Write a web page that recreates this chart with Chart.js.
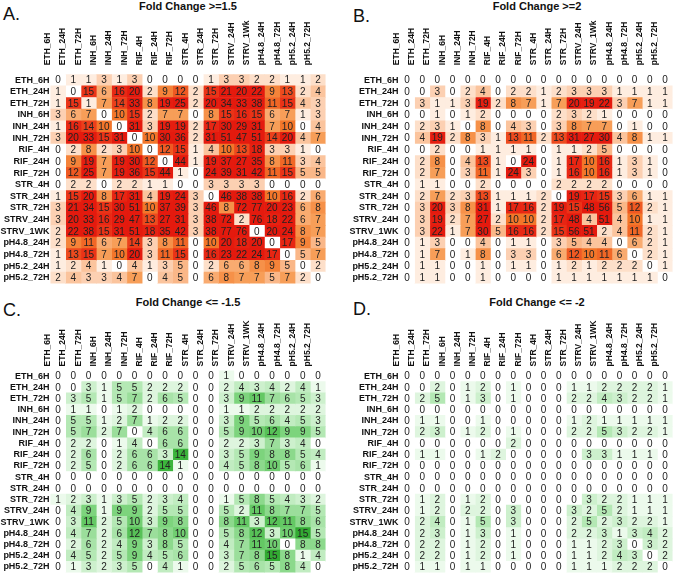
<!DOCTYPE html>
<html>
<head>
<meta charset="utf-8">
<script src="https://cdn.jsdelivr.net/npm/chart.js@4.4.1/dist/chart.umd.min.js"></script>
<style>
  body { margin: 0; background: #fff; width: 675px; height: 582px; position: relative; overflow: hidden; font-family: Arial, 'Liberation Sans', sans-serif; }
  canvas { position: absolute; }
  .letter { position: absolute; font-size: 18px; line-height: 18px; color: #111; }
  .title { position: absolute; font-size: 11px; line-height: 12px; font-weight: bold; color: #111; transform: translateX(-50%); white-space: nowrap; }
</style>
</head>
<body>
<div class="letter" style="left:3px;top:5px">A.</div>
<div class="letter" style="left:353px;top:7px">B.</div>
<div class="letter" style="left:3px;top:301px">C.</div>
<div class="letter" style="left:353px;top:300px">D.</div>
<div class="title" style="left:188px;top:0px">Fold Change &gt;=1.5</div>
<div class="title" style="left:537px;top:0px">Fold Change &gt;=2</div>
<div class="title" style="left:188px;top:296px">Fold Change &lt;= -1.5</div>
<div class="title" style="left:537px;top:296px">Fold Change &lt;= -2</div>
<canvas id="chartA" width="337" height="290" style="left:0;top:0"></canvas>
<canvas id="chartB" width="338" height="290" style="left:337px;top:0"></canvas>
<canvas id="chartC" width="337" height="292" style="left:0;top:290px"></canvas>
<canvas id="chartD" width="338" height="292" style="left:337px;top:290px"></canvas>
<script>
const rowLabels = ['ETH_6H', 'ETH_24H', 'ETH_72H', 'INH_6H', 'INH_24H', 'INH_72H', 'RIF_4H', 'RIF_24H', 'RIF_72H',
  'STR_4H', 'STR_24H', 'STR_72H', 'STRV_24H', 'STRV_1WK', 'pH4.8_24H', 'pH4.8_72H', 'pH5.2_24H', 'pH5.2_72H'];
const colLabelsUp = ['ETH_6H', 'ETH_24H', 'ETH_72H', 'INH_6H', 'INH_24H', 'INH_72H', 'RIF_4H', 'RIF_24H', 'RIF_72H',
  'STR_4H', 'STR_24H', 'STR_72H', 'STRV_24H', 'STRV_1Wk', 'pH4.8_24H', 'pH4.8_72H', 'pH5.2_24H', 'pH5.2_72H'];
const colLabelsDown = ['ETH_6H', 'ETH_24H', 'ETH_72H', 'INH_6H', 'INH_24H', 'INH_72H', 'RIF_4H', 'RIF_24H', 'RIF_72H',
  'STR_4H', 'STR_24H', 'STR_72H', 'STRV_24H', 'STRV_1WK', 'pH4.8_24H', 'pH4.8_72H', 'pH5.2_24H', 'pH5.2_72H'];

// A. fold change >= 1.5
const upFc15 = [
  [0, 1, 1, 3, 1, 3, 0, 0, 0, 0, 1, 3, 3, 2, 2, 1, 1, 2],
  [1, 0, 15, 6, 16, 20, 2, 9, 12, 2, 15, 21, 20, 22, 9, 13, 2, 4],
  [1, 15, 1, 7, 14, 33, 8, 19, 25, 2, 20, 34, 33, 38, 11, 15, 4, 3],
  [3, 6, 7, 0, 10, 15, 2, 7, 7, 0, 8, 15, 16, 15, 6, 7, 1, 3],
  [1, 16, 14, 10, 0, 31, 3, 19, 19, 2, 17, 30, 29, 31, 7, 10, 0, 4],
  [3, 20, 33, 15, 31, 0, 10, 30, 36, 2, 31, 51, 47, 51, 14, 20, 4, 7],
  [0, 2, 8, 2, 3, 10, 0, 12, 15, 1, 4, 10, 13, 18, 3, 3, 1, 0],
  [0, 9, 19, 7, 19, 30, 12, 0, 44, 1, 19, 37, 27, 35, 8, 11, 3, 4],
  [0, 12, 25, 7, 19, 36, 15, 44, 1, 0, 24, 39, 31, 42, 11, 15, 5, 5],
  [0, 2, 2, 0, 2, 2, 1, 1, 0, 0, 3, 3, 3, 3, 0, 0, 0, 0],
  [1, 15, 20, 8, 17, 31, 4, 19, 24, 3, 0, 46, 38, 38, 10, 16, 2, 6],
  [3, 21, 34, 15, 30, 51, 10, 37, 39, 3, 46, 8, 72, 77, 20, 23, 6, 8],
  [3, 20, 33, 16, 29, 47, 13, 27, 31, 3, 38, 72, 2, 76, 18, 22, 6, 7],
  [2, 22, 38, 15, 31, 51, 18, 35, 42, 3, 38, 77, 76, 0, 20, 24, 8, 7],
  [2, 9, 11, 6, 7, 14, 3, 8, 11, 0, 10, 20, 18, 20, 0, 17, 9, 5],
  [1, 13, 15, 7, 10, 20, 3, 11, 15, 0, 16, 23, 22, 24, 17, 0, 5, 7],
  [1, 2, 4, 1, 0, 4, 1, 3, 5, 0, 2, 6, 6, 8, 9, 5, 0, 2],
  [2, 4, 3, 3, 4, 7, 0, 4, 5, 0, 6, 8, 7, 7, 5, 7, 2, 0]
];

// B. fold change >= 2
const upFc2 = [
  [0, 0, 0, 0, 0, 0, 0, 0, 0, 0, 0, 0, 0, 0, 0, 0, 0, 0],
  [0, 0, 3, 0, 2, 4, 0, 2, 2, 1, 2, 3, 3, 3, 1, 1, 1, 1],
  [0, 3, 1, 1, 3, 19, 2, 8, 7, 1, 7, 20, 19, 22, 3, 7, 1, 1],
  [0, 0, 1, 0, 1, 2, 0, 0, 0, 0, 2, 3, 2, 1, 0, 0, 0, 0],
  [0, 2, 3, 1, 0, 8, 0, 4, 3, 0, 3, 8, 7, 7, 0, 1, 0, 0],
  [0, 4, 19, 2, 8, 3, 1, 13, 11, 2, 13, 31, 27, 30, 4, 8, 1, 1],
  [0, 0, 2, 0, 0, 1, 1, 1, 1, 0, 1, 1, 2, 5, 0, 0, 0, 0],
  [0, 2, 8, 0, 4, 13, 1, 0, 24, 0, 1, 17, 10, 16, 1, 3, 1, 0],
  [0, 2, 7, 0, 3, 11, 1, 24, 3, 0, 1, 16, 10, 16, 1, 3, 1, 0],
  [0, 1, 1, 0, 0, 2, 0, 0, 0, 0, 2, 2, 2, 2, 0, 0, 0, 0],
  [0, 2, 7, 2, 3, 13, 1, 1, 1, 2, 0, 19, 17, 15, 3, 6, 1, 1],
  [0, 3, 20, 3, 8, 31, 1, 17, 16, 2, 19, 15, 48, 56, 5, 12, 2, 1],
  [0, 3, 19, 2, 7, 27, 2, 10, 10, 2, 17, 48, 4, 51, 4, 10, 1, 1],
  [0, 3, 22, 1, 7, 30, 5, 16, 16, 2, 15, 56, 51, 2, 4, 11, 2, 1],
  [0, 1, 3, 0, 0, 4, 0, 1, 1, 0, 3, 5, 4, 4, 0, 6, 2, 1],
  [0, 1, 7, 0, 1, 8, 0, 3, 3, 0, 6, 12, 10, 11, 6, 0, 2, 1],
  [0, 1, 1, 0, 0, 1, 0, 1, 1, 0, 1, 2, 1, 2, 2, 2, 0, 1],
  [0, 1, 1, 0, 0, 1, 0, 0, 0, 0, 1, 1, 1, 1, 1, 1, 1, 0]
];

// C. fold change <= -1.5
const downFc15 = [
  [0, 0, 0, 0, 0, 0, 0, 0, 0, 0, 0, 1, 0, 0, 0, 0, 0, 0],
  [0, 0, 3, 1, 5, 5, 2, 2, 2, 0, 0, 2, 4, 3, 4, 2, 4, 1],
  [0, 3, 5, 1, 5, 7, 2, 6, 5, 0, 0, 3, 9, 11, 7, 6, 5, 3],
  [0, 1, 1, 0, 1, 2, 0, 0, 0, 0, 0, 1, 1, 2, 2, 2, 2, 2],
  [0, 5, 5, 1, 2, 7, 1, 2, 2, 0, 0, 3, 9, 5, 6, 4, 5, 3],
  [0, 5, 7, 2, 7, 0, 4, 6, 6, 0, 0, 5, 9, 10, 12, 9, 9, 5],
  [0, 2, 2, 0, 1, 4, 0, 6, 6, 0, 0, 2, 2, 3, 7, 3, 4, 0],
  [0, 2, 6, 0, 2, 6, 6, 3, 14, 0, 0, 3, 5, 9, 8, 8, 5, 4],
  [0, 2, 5, 0, 2, 6, 6, 14, 1, 0, 0, 4, 5, 8, 10, 5, 6, 1],
  [0, 0, 0, 0, 0, 0, 0, 0, 0, 0, 0, 0, 0, 0, 0, 0, 0, 0],
  [0, 0, 0, 0, 0, 0, 0, 0, 0, 0, 0, 0, 0, 0, 0, 0, 0, 0],
  [1, 2, 3, 1, 3, 5, 2, 3, 4, 0, 0, 1, 5, 8, 5, 4, 3, 2],
  [0, 4, 9, 1, 9, 9, 2, 5, 5, 0, 0, 5, 2, 11, 8, 7, 7, 5],
  [0, 3, 11, 2, 5, 10, 3, 9, 8, 0, 0, 8, 11, 3, 12, 11, 8, 6],
  [0, 4, 7, 2, 6, 12, 7, 8, 10, 0, 0, 5, 8, 12, 3, 10, 15, 5],
  [0, 2, 6, 2, 4, 9, 3, 8, 5, 0, 0, 4, 7, 11, 10, 0, 8, 8],
  [0, 4, 5, 2, 5, 9, 4, 5, 6, 0, 0, 3, 7, 8, 15, 8, 1, 4],
  [0, 1, 3, 2, 3, 5, 0, 4, 1, 0, 0, 2, 5, 6, 5, 8, 4, 0]
];

// D. fold change <= -2
const downFc2 = [
  [0, 0, 0, 0, 0, 0, 0, 0, 0, 0, 0, 0, 0, 0, 0, 0, 0, 0],
  [0, 0, 2, 0, 1, 2, 0, 1, 0, 0, 0, 1, 1, 2, 2, 2, 2, 1],
  [0, 2, 5, 0, 1, 3, 0, 1, 0, 0, 0, 2, 2, 4, 3, 2, 2, 1],
  [0, 0, 0, 0, 0, 0, 0, 0, 0, 0, 0, 0, 0, 0, 0, 0, 0, 0],
  [0, 1, 1, 0, 0, 1, 0, 0, 0, 0, 0, 1, 2, 1, 1, 1, 1, 1],
  [0, 2, 3, 0, 1, 2, 0, 1, 0, 0, 0, 2, 2, 5, 3, 2, 2, 1],
  [0, 0, 0, 0, 0, 0, 0, 2, 0, 0, 0, 0, 0, 0, 0, 0, 0, 0],
  [0, 1, 1, 0, 0, 1, 2, 0, 0, 0, 0, 0, 3, 3, 1, 1, 1, 0],
  [0, 0, 0, 0, 0, 0, 0, 0, 0, 0, 0, 0, 0, 0, 0, 0, 0, 0],
  [0, 0, 0, 0, 0, 0, 0, 0, 0, 0, 0, 0, 0, 0, 0, 0, 0, 0],
  [0, 0, 0, 0, 0, 0, 0, 0, 0, 0, 0, 0, 0, 0, 0, 0, 0, 0],
  [0, 1, 2, 0, 1, 2, 0, 0, 0, 0, 0, 0, 3, 2, 2, 1, 1, 1],
  [0, 1, 2, 0, 2, 2, 0, 3, 0, 0, 0, 3, 2, 5, 2, 1, 1, 1],
  [0, 2, 4, 0, 1, 5, 0, 3, 0, 0, 0, 2, 5, 2, 3, 2, 2, 1],
  [0, 2, 3, 0, 1, 3, 0, 1, 0, 0, 0, 2, 2, 3, 1, 3, 4, 2],
  [0, 2, 2, 0, 1, 2, 0, 1, 0, 0, 0, 1, 1, 2, 3, 0, 3, 2],
  [0, 2, 2, 0, 1, 2, 0, 1, 0, 0, 0, 1, 1, 2, 4, 3, 0, 2],
  [0, 1, 1, 0, 1, 1, 0, 0, 0, 0, 0, 1, 1, 1, 2, 2, 2, 0]
];

// colour ramps, value -> rgb
const redStops = [
  [0, [255, 255, 255]], [1, [254, 237, 224]], [2, [253, 223, 201]], [3, [252, 208, 178]],
  [5, [250, 183, 136]], [7, [247, 158, 88]], [10, [243, 118, 42]], [13, [237, 74, 30]],
  [16, [232, 40, 20]], [20, [228, 26, 14]]
];
const greenStops = [
  [0, [255, 255, 255]], [1, [236, 250, 236]], [2, [222, 245, 222]], [3, [205, 240, 205]],
  [5, [180, 232, 180]], [7, [155, 222, 155]], [9, [125, 212, 125]], [11, [100, 200, 100]],
  [14, [60, 180, 60]], [15, [50, 170, 50]]
];

function shade(v, stops) {
  if (v >= stops[stops.length - 1][0]) return 'rgb(' + stops[stops.length - 1][1].join(',') + ')';
  for (let k = 1; k < stops.length; k++) {
    if (v <= stops[k][0]) {
      const [v0, c0] = stops[k - 1];
      const [v1, c1] = stops[k];
      const t = (v - v0) / (v1 - v0);
      return 'rgb(' + c0.map((c, n) => Math.round(c + (c1[n] - c) * t)).join(',') + ')';
    }
  }
}

const labelFont = "Arial, 'Liberation Sans', sans-serif";

// writes the count in each cell
function cellText(values) {
  return {
    id: 'cellText',
    afterDatasetsDraw(chart) {
      const { ctx, scales: { x, y } } = chart;
      ctx.save();
      ctx.font = '10px Arial, "Liberation Sans", sans-serif';
      ctx.fillStyle = '#222';
      ctx.textAlign = 'center';
      ctx.textBaseline = 'middle';
      values.forEach((row, i) => row.forEach((v, j) => {
        ctx.fillText(String(v), x.getPixelForValue(j), y.getPixelForValue(i) + 0.5);
      }));
      ctx.restore();
    }
  };
}

function makePanel(id, values, cols, stops, box) {
  const datasets = cols.map((c, j) => ({
    label: c,
    data: rowLabels.map(() => [j - 0.5, j + 0.5]),
    backgroundColor: values.map(row => shade(row[j], stops)),
    borderWidth: 0,
    barPercentage: 1,
    categoryPercentage: 1,
    grouped: false
  }));

  new Chart(document.getElementById(id), {
    type: 'bar',
    data: { labels: rowLabels, datasets: datasets },
    options: {
      indexAxis: 'y',
      responsive: false,
      animation: false,
      devicePixelRatio: 1,
      layout: { padding: { left: 0, top: 0, right: box.right, bottom: box.bottom } },
      plugins: { legend: { display: false }, tooltip: { enabled: false } },
      scales: {
        x: {
          type: 'linear',
          position: 'top',
          min: -0.5,
          max: 17.5,
          afterBuildTicks: axis => { axis.ticks = cols.map((c, j) => ({ value: j })); },
          afterFit: axis => { axis.height = box.top; },
          grid: { display: false, drawTicks: false },
          border: { display: false },
          ticks: {
            autoSkip: false,
            minRotation: 90,
            maxRotation: 90,
            padding: box.labelGap,
            color: '#111',
            font: { family: labelFont, size: 8.5, weight: 'bold' },
            callback: (value, index) => cols[index]
          }
        },
        y: {
          type: 'category',
          offset: true,
          afterFit: axis => { axis.width = box.left; },
          grid: { display: false, drawTicks: false },
          border: { display: false },
          ticks: {
            autoSkip: false,
            padding: 1,
            color: '#111',
            font: { family: labelFont, size: 9, weight: 'bold' }
          }
        }
      }
    },
    plugins: [cellText(values)]
  });
}

makePanel('chartA', upFc15, colLabelsUp, redStops, { left: 50.4, top: 74.2, right: 11.4, bottom: 6.2, labelGap: 9 });
makePanel('chartB', upFc2, colLabelsUp, redStops, { left: 62.4, top: 74.2, right: 2.4, bottom: 6.2, labelGap: 9 });
makePanel('chartC', downFc15, colLabelsDown, greenStops, { left: 50.4, top: 80.4, right: 11.4, bottom: 9.4, labelGap: 4 });
makePanel('chartD', downFc2, colLabelsDown, greenStops, { left: 62.4, top: 80.4, right: 2.4, bottom: 9.4, labelGap: 4 });
</script>
</body>
</html>
